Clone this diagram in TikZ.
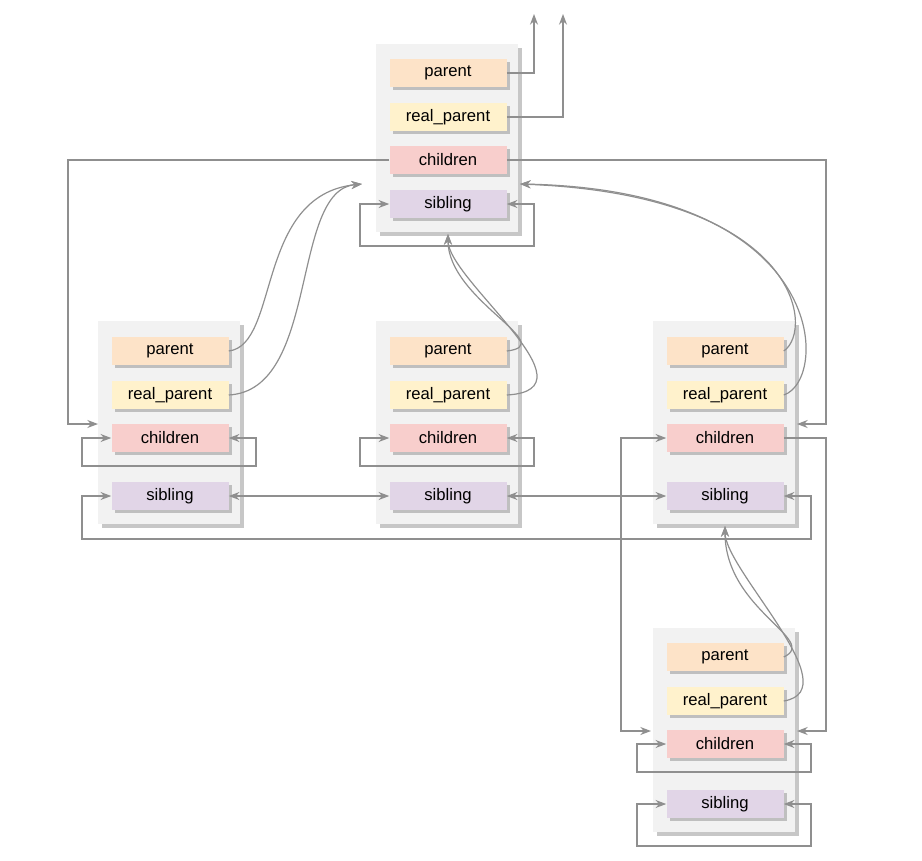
\documentclass[tikz,border=0pt]{standalone}
\usepackage{fontspec}
\setmainfont{Liberation Sans}
\usetikzlibrary{arrows.meta}
\definecolor{lc}{HTML}{8F8F8F}
\definecolor{cpar}{HTML}{FDE3C8}
\definecolor{creal}{HTML}{FFF2CC}
\definecolor{cchi}{HTML}{F8CECC}
\definecolor{csib}{HTML}{E1D5E7}
\begin{document}
\begin{tikzpicture}[x=0.75pt,y=-0.75pt,
 cont/.style={fill=black!5,minimum width=106.5pt,inner sep=0},
 fld/.style={minimum width=87.75pt,minimum height=21pt,inner sep=0,font=\fontsize{12.5}{14}\selectfont},
 par/.style={fld,fill=cpar},rp/.style={fld,fill=creal},ch/.style={fld,fill=cchi},sb/.style={fld,fill=csib},
 ln/.style={draw=lc,line width=0.9pt},
 a/.style={ln,-{Stealth[length=8pt,width=6pt]}},
 ab/.style={ln,{Stealth[length=8pt,width=6pt]}-{Stealth[length=8pt,width=6pt]}}]
\useasboundingbox (0,0) rectangle (922,861);
% containers
\newcommand{\cbox}[5]{%
 \fill[black!22] (#2+4,#3+4) rectangle (#4+4,#5+4);
 \node[cont,fill=black!5,minimum width={(#4-#2)*0.75pt},minimum height={(#5-#3)*0.75pt},anchor=north west] (#1) at (#2,#3) {};}
\newcommand{\fldn}[5]{%
 \fill[black!25] (#3-58.5+3,#4-14+3) rectangle (#3+58.5+3,#4+14+3);
 \node[#2] (#1) at (#3,#4) {#5};}
\cbox{T}{376}{44}{518}{232}
\cbox{L}{98}{321}{240}{524}
\cbox{M}{376}{321}{518}{524}
\cbox{R}{653}{321}{795}{524}
\cbox{B}{653}{628}{795}{832}
\fldn{Tp}{par}{448}{73}{parent}
\fldn{Tr}{rp}{448}{117}{real\_parent}
\fldn{Tc}{ch}{448}{160}{children}
\fldn{Ts}{sb}{448}{204}{sibling}
\foreach \n/\x/\y in {L/170/351,M/448/351,R/725/351,B/725/657}{
 \fldn{\n p}{par}{\x}{\y}{parent}
 \fldn{\n r}{rp}{\x}{\y+44}{real\_parent}
 \fldn{\n c}{ch}{\x}{\y+87}{children}
}
\fldn{Ls}{sb}{170}{496}{sibling}
\fldn{Ms}{sb}{448}{496}{sibling}
\fldn{Rs}{sb}{725}{496}{sibling}
\fldn{Bs}{sb}{725}{804}{sibling}
% coordinates
\coordinate (u1) at (534,14); \coordinate (u2) at (563,14);
\coordinate (TinL) at (362,184); \coordinate (TinR) at (520,184);
\coordinate (Tbot) at (448,234); \coordinate (Rbot) at (725,526);
% top
\draw[a] (Tp.east) -| (u1);
\draw[a] (Tr.east) -| (u2);
\draw[a] (Tc.west) -- (68,160) |- (98,424);
\draw[a] (Tc.east) -- (826,160) |- (797,424);
\draw[ab] (Ts.west) -- (360,204) |- (534,246) |- (Ts.east);
% curves to top
\draw[a] (Lp.east) .. controls (280,345) and (255,195) .. (TinL);
\draw[a] (Lr.east) .. controls (320,390) and (290,190) .. (TinL);
\draw[a] (Mp.east) .. controls (560,345) and (448,300) .. (Tbot);
\draw[a] (Mr.east) .. controls (600,390) and (448,280) .. (Tbot);
\draw[a] (Rp.east) .. controls (815,330) and (800,195) .. (TinR);
\draw[a] (Rr.east) .. controls (830,380) and (830,190) .. (TinR);
\draw[a] (Bp.east) .. controls (820,640) and (725,610) .. (Rbot);
\draw[a] (Br.east) .. controls (850,690) and (725,570) .. (Rbot);
% children loops
\draw[ab] (Lc.west) -- (82,438) |- (256,466) |- (Lc.east);
\draw[ab] (Mc.west) -- (360,438) |- (534,466) |- (Mc.east);
\draw[a] (Rc.east) -- (826,438) |- (797,731);
\draw[ab] (Rc.west) -- (621,438) |- (651,731);
\draw[ab] (Bc.west) -- (637,744) |- (811,772) |- (Bc.east);
\draw[ab] (Bs.west) -- (637,804) |- (811,846) |- (Bs.east);
% siblings
\draw[ab] (Ls.east) -- (Ms.west);
\draw[ab] (Ms.east) -- (Rs.west);
\draw[ab] (Ls.west) -- (82,496) |- (811,539) |- (Rs.east);
\end{tikzpicture}
\end{document}
